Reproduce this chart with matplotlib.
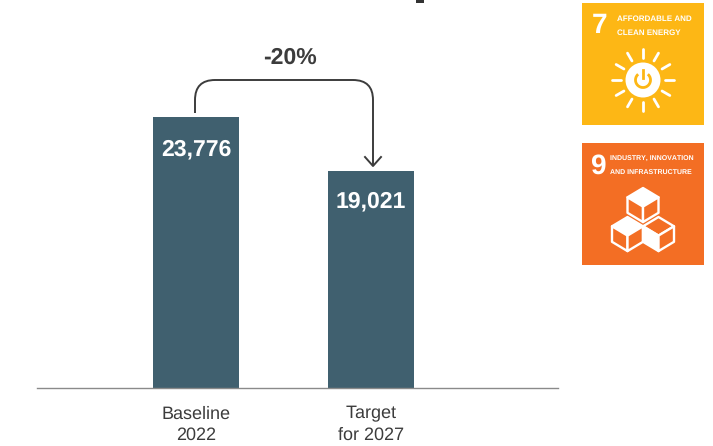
import numpy as np
import matplotlib
matplotlib.use("Agg")
import matplotlib.pyplot as plt
from matplotlib.patches import Circle, Arc, Polygon, PathPatch, Rectangle
from matplotlib.path import Path

plt.rcParams['font.family'] = ['Liberation Sans', 'DejaVu Sans']
plt.rcParams['text.hinting'] = 'no_hinting'
plt.rcParams['text.hinting_factor'] = 1

# Data
categories = ["Baseline\n2022", "Target\nfor 2027"]
values = [23776, 19021]
value_labels = ["23,776", "19,021"]
change_label = "-20%"

BAR_COLOR = "#40606F"
TEXT_COLOR = "#3C3C3C"
GOLD = "#FDB715"
ORANGE = "#F36E24"

W, H = 713, 446
fig = plt.figure(figsize=(W/100, H/100), dpi=100, facecolor="white")

# main axes, runs from the top of the image down to the baseline
ax = fig.add_axes([37/W, 1 - 388/H, (558 - 37)/W, 388/H])
x = np.arange(len(values))
ax.bar(x, values, width=86/175, color=BAR_COLOR)
ax.set_xlim(-159/175, 362/175)
ax.set_ylim(0, 23776*388/271)
for s in ["top", "left", "right"]:
    ax.spines[s].set_visible(False)
ax.spines["bottom"].set_color("#8A8A8A")
ax.spines["bottom"].set_linewidth(1.0)
ax.set_yticks([])
ax.set_xticks(x)
ax.set_xticklabels(categories, fontsize=13.1, color=TEXT_COLOR, linespacing=1.36)
ax.tick_params(axis="x", length=0, pad=12.6)
for xi, v, lab, off in zip(x, values, value_labels, [-32, -30]):
    ax.annotate(lab, (xi, v), xytext=(0, off), textcoords="offset pixels", ha="center", va="center",
                color="white", fontsize=16.3, fontweight="bold")

# overlay in image pixels for the arrow and the SDG icons
ov = fig.add_axes([0, 0, 1, 1], facecolor="none")
ov.set_xlim(0, W)
ov.set_ylim(H, 0)
ov.axis("off")

ov.text(290, 57.5, change_label, ha="center", va="center", fontsize=16.8, fontweight="bold", color=TEXT_COLOR)

# bracket arrow
verts = [(195, 113), (195, 100), (195, 80), (215, 80), (353, 80), (373, 80), (373, 100), (373, 166)]
codes = [Path.MOVETO, Path.LINETO, Path.CURVE3, Path.CURVE3, Path.LINETO, Path.CURVE3, Path.CURVE3, Path.LINETO]
ov.add_patch(PathPatch(Path(verts, codes), fill=False, ec=TEXT_COLOR, lw=1.4))
ov.plot([365, 373, 381], [157, 166, 157], color=TEXT_COLOR, lw=1.4)

# cut-off piece of a heading at the top edge
ov.add_patch(Rectangle((416, 0), 8, 2.5, fc="#333333", ec="none"))

# SDG 7
ov.add_patch(Rectangle((582, 3), 122, 122, fc=GOLD, ec="none"))
ov.text(600, 26, "7", ha="center", va="center", color="white", fontsize=20, fontweight="bold")
ov.text(617, 19, "AFFORDABLE AND", ha="left", va="center", color="white", fontsize=5.5, fontweight="bold")
ov.text(617, 32.5, "CLEAN ENERGY", ha="left", va="center", color="white", fontsize=5.5, fontweight="bold")
cx, cy = 643, 80
ov.add_patch(Circle((cx, cy), 17.5, fc="white", ec="none"))
ov.add_patch(Arc((cx, cy), 15, 15, theta1=-50, theta2=230, ec=GOLD, lw=2))
ov.plot([cx, cx], [cy - 10, cy - 2], color=GOLD, lw=2)
for ang in np.arange(0, 360, 30):
    c, s = np.cos(np.radians(ang)), np.sin(np.radians(ang))
    ov.plot([cx + 22*c, cx + 31*c], [cy + 22*s, cy + 31*s], color="white", lw=2, solid_capstyle="round")

# SDG 9
ov.add_patch(Rectangle((582, 143), 122, 122, fc=ORANGE, ec="none"))
ov.text(598, 166, "9", ha="center", va="center", color="white", fontsize=20, fontweight="bold")
ov.text(610, 158, "INDUSTRY, INNOVATION", ha="left", va="center", color="white", fontsize=4.9, fontweight="bold")
ov.text(610, 172, "AND INFRASTRUCTURE", ha="left", va="center", color="white", fontsize=4.9, fontweight="bold")


def cube(x0, y0, filled_top=True, filled_left=False):
    # x0, y0 is the upper corner of the cube's top face
    dx, dy, h = 15.5, 9.3, 15.5
    top = [(x0, y0), (x0 + dx, y0 + dy), (x0, y0 + 2*dy), (x0 - dx, y0 + dy)]
    left = [(x0 - dx, y0 + dy), (x0, y0 + 2*dy), (x0, y0 + 2*dy + h), (x0 - dx, y0 + dy + h)]
    right = [(x0 + dx, y0 + dy), (x0, y0 + 2*dy), (x0, y0 + 2*dy + h), (x0 + dx, y0 + dy + h)]
    ov.add_patch(Polygon(top, closed=True, fc="white" if filled_top else ORANGE, ec="white", lw=1.7, joinstyle="round"))
    ov.add_patch(Polygon(left, closed=True, fc="white" if filled_left else ORANGE, ec="white", lw=1.7, joinstyle="round"))
    ov.add_patch(Polygon(right, closed=True, fc=ORANGE, ec="white", lw=1.7, joinstyle="round"))


cube(643, 188)
cube(627.5, 217)
cube(658.5, 217, filled_top=False, filled_left=True)

fig.savefig("out.png", dpi=100)
